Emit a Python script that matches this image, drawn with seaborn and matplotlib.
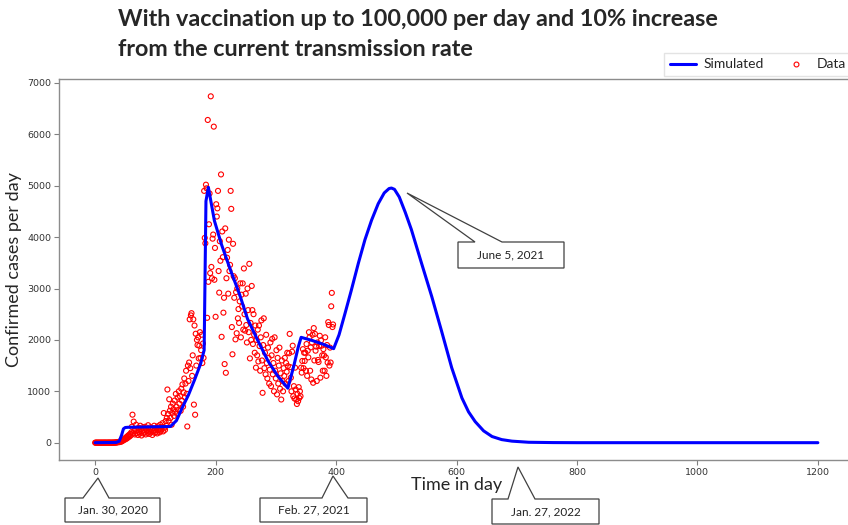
import matplotlib
matplotlib.use("Agg")
import matplotlib.pyplot as plt
import seaborn as sns
from matplotlib.patches import Polygon
from matplotlib.lines import Line2D

# simulated curve (day, confirmed cases per day)
sim_days = [0, 35, 40, 44, 47, 50, 55, 125, 135, 145, 155, 165, 175, 181, 184,
            188, 198, 210, 225, 240, 253, 270, 287, 303, 320, 330, 337, 342,
            360, 380, 396, 405, 415, 425, 437, 448, 459, 470, 480, 488, 492,
            497, 505, 515, 525, 542, 559, 575, 592, 609, 620, 631, 645, 659,
            675, 692, 720, 760, 800, 1200]
sim_cases = [0, 5, 30, 150, 270, 295, 300, 315, 430, 690, 930, 1220, 1530, 1800, 4700,
             4970, 4320, 3850, 3350, 2880, 2410, 1990, 1590, 1300, 1060, 1500, 1850, 2050,
             1990, 1910, 1830, 2100, 2520, 2950, 3490, 3950, 4330, 4650, 4860, 4945, 4955,
             4930, 4780, 4480, 4150, 3490, 2840, 2180, 1460, 870, 600, 410, 230, 120,
             60, 30, 8, 2, 0, 0]

# reported daily cases, one value per day starting at day 0
data_cases = [
    0, 0, 0, 0, 0, 0, 0, 0, 0, 0,
    0, 0, 0, 0, 0, 0, 1, 0, 0, 0,
    0, 0, 0, 2, 0, 0, 0, 0, 1, 0,
    0, 3, 0, 2, 5, 4, 8, 6, 12, 15,
    10, 20, 25, 18, 35, 30, 45, 60, 50, 75,
    90, 70, 110, 85, 130, 105, 150, 120, 170, 140,
    200, 310, 545, 180, 410, 230, 160, 260, 350, 190,
    240, 150, 290, 210, 175, 330, 260, 140, 220, 300,
    180, 250, 200, 310, 160, 270, 230, 190, 340, 215,
    170, 260, 300, 200, 240, 150, 280, 220, 330, 190,
    250, 210, 290, 180, 320, 240, 270, 200, 350, 230,
    260, 310, 380, 220, 577, 290, 250, 420, 330, 480,
    1035, 560, 430, 845, 620, 480, 700, 350, 580, 760,
    650, 520, 820, 600, 950, 700, 560, 880, 640, 1000,
    760, 900, 620, 1050, 820, 1134, 700, 980, 1250, 880,
    1150, 1400, 950, 315, 1500, 1200, 1560, 2400, 1450, 2477,
    2520, 1300, 1700, 2400, 741, 2280, 544, 2120, 1500, 2000,
    1900, 2050, 1640, 1887, 2150, 1650, 1800, 2100, 1550, 1930,
    1650, 4900, 3985, 3880, 5020, 4950, 2430, 6280, 3130, 4250,
    4850, 3300, 6740, 3420, 3200, 3970, 4050, 6150, 3170, 3790,
    2450, 4640, 4400, 4560, 4900, 3340, 2920, 3920, 3540, 5220,
    2060, 4110, 3610, 2530, 2820, 1530, 4170, 1360, 3200, 3600,
    3750, 2900, 3950, 3340, 3460, 4900, 4550, 2250, 1720, 3870,
    3240, 2820, 3200, 2010, 2930, 2130, 3000, 2420, 2600, 2330,
    2750, 3100, 2050, 2880, 2650, 3100, 2200, 3390, 2500, 2180,
    2900, 2290, 1950, 3000, 2580, 2150, 3480, 1640, 2330, 2000,
    3050, 2580, 1920, 2500, 2100, 1750, 2280, 1460, 2000, 1700,
    2200, 1580, 2280, 1880, 1400, 2050, 2380, 1600, 970, 1900,
    2420, 1450, 1750, 1330, 2100, 1550, 1250, 1850, 1650, 1150,
    1420, 1950, 1100, 1700, 2020, 1330, 1550, 1000, 2050, 1400,
    1250, 1800, 940, 1650, 1150, 1500, 1850, 1050, 1350, 840,
    1600, 1200, 1000, 1450, 1300, 1650, 1150, 1550, 1380, 1750,
    1490, 1200, 1740, 2117, 1470, 1265, 1000, 1770, 1887, 905,
    1100, 860, 1460, 1035, 840, 753, 950, 807, 1081, 870,
    1000, 905, 1460, 1363, 1590, 1820, 1450, 1750, 1590, 1750,
    1400, 1920, 1300, 1790, 1660, 2150, 2050, 1400, 1854, 1230,
    1950, 2100, 1166, 2230, 1600, 2117, 1790, 1870, 1200, 1950,
    1610, 1570, 1880, 2080, 1265, 1990, 1887, 1700, 1400, 1820,
    1700, 1400, 2050, 1660, 1300, 1900, 1560, 2346, 2290, 1500,
    1850, 1560, 2654, 2915, 2250, 2300,
]
data_days = list(range(len(data_cases)))

title_lines = ["With vaccination up to 100,000 per day and 10% increase",
               "from the current transmission rate"]

# callouts: text, box (x0, y0, x1, y1) in pixels from top-left, pointer base xs, pointer tip
callouts = [
    ("Jan. 30, 2020", (65, 498, 160, 522), (83, 109), (98, 478)),
    ("Feb. 27, 2021", (260, 498, 367, 522), (322, 348), (333, 476)),
    ("Jan. 27, 2022", (492, 499, 599, 524), (508, 535), (518, 467)),
    ("June 5, 2021", (458, 242, 564, 268), (475, 502), (407, 193)),
]

W, H = 848, 525

sns.set_theme(style="ticks")
plt.rcParams["font.family"] = ["Lato", "DejaVu Sans"]

fig = plt.figure(figsize=(W / 100, H / 100), dpi=100)
ax = fig.add_axes([59 / W, 1 - 460 / H, (854 - 59) / W, (460 - 79) / H])

sns.scatterplot(x=data_days, y=data_cases, ax=ax, marker="o", s=13,
                facecolors="none", edgecolor="red", linewidth=0.8, zorder=2)
sns.lineplot(x=sim_days, y=sim_cases, ax=ax, color="blue", linewidth=2.2, zorder=3)

ax.set_xlim(-60, 1260)
ax.set_ylim(-337, 7077)
ax.set_xticks(range(0, 1201, 200))
ax.set_yticks(range(0, 7001, 1000))
ax.tick_params(labelsize=6.8, labelcolor="#333333", color="0.5", length=3.5,
               width=0.8, pad=2)
for lab in ax.get_xticklabels() + ax.get_yticklabels():
    lab.set_family("DejaVu Sans")
for sp in ax.spines.values():
    sp.set_visible(True)
    sp.set_color("0.55")
    sp.set_linewidth(1.0)

ax.set_xlabel("Time in day", fontsize=13, labelpad=0)
ax.set_ylabel("Confirmed cases per day", fontsize=13, labelpad=4)

# title
fig.text(118 / W, 1 - 20 / H, title_lines[0], fontsize=16.8, fontweight="bold", va="center")
fig.text(118 / W, 1 - 50 / H, title_lines[1], fontsize=16.8, fontweight="bold", va="center")

# legend above the axes, top right (its frame runs off the right edge)
handles = [Line2D([], [], color="blue", lw=2.2),
           Line2D([], [], ls="none", marker="o", mfc="none", mec="red", ms=3.5, mew=0.8)]
fig.legend(handles, ["Simulated", "Data"], ncol=2, loc="lower left",
           bbox_to_anchor=(664 / W, 1 - 76 / H), bbox_transform=fig.transFigure,
           fontsize=10, frameon=True, edgecolor="#dddddd", fancybox=False,
           handlelength=1.9, handletextpad=0.55, columnspacing=1.35,
           borderpad=0.4, borderaxespad=0)


def fxy(px, py):
    return (px / W, 1 - py / H)


for text, (x0, y0, x1, y1), (b0, b1), tip in callouts:
    pts = [(x0, y0), (b0, y0), tip, (b1, y0), (x1, y0), (x1, y1), (x0, y1)]
    poly = Polygon([fxy(*p) for p in pts], closed=True, transform=fig.transFigure,
                   facecolor="white", edgecolor="#404040", linewidth=0.9, zorder=5)
    fig.add_artist(poly)
    cx, cy = fxy((x0 + x1) / 2, (y0 + y1) / 2)
    fig.text(cx, cy, text, ha="center", va="center", fontsize=8.5, color="#222222", zorder=6)

fig.savefig("out.png", dpi=100)
